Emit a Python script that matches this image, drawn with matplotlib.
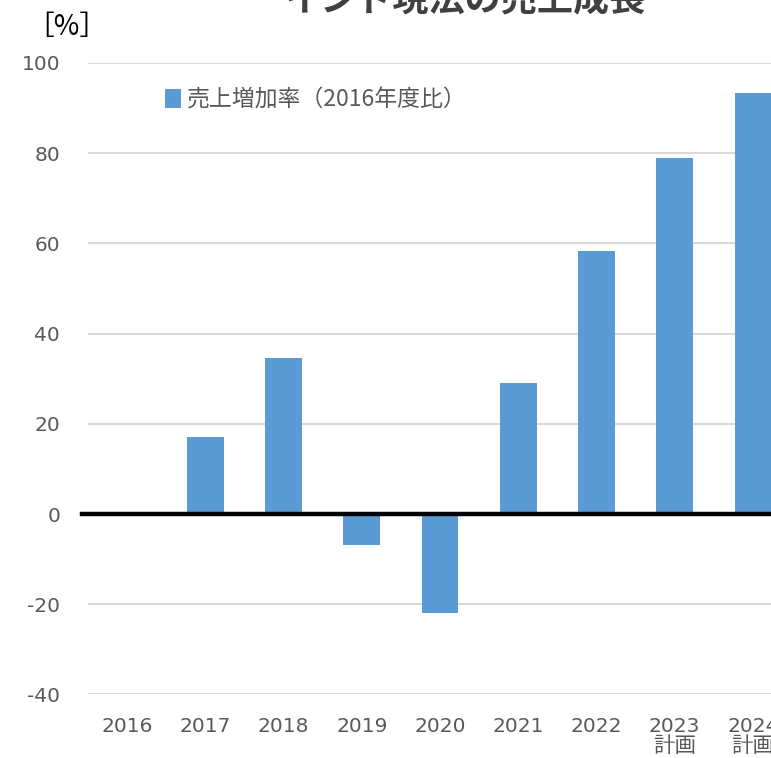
import matplotlib
matplotlib.use("Agg")
import matplotlib.pyplot as plt
import matplotlib.transforms as mtransforms

plt.rcParams['font.family'] = ['DejaVu Sans', 'Noto Sans CJK JP']
plt.rcParams['axes.unicode_minus'] = False

# data
years = ["2016", "2017", "2018", "2019", "2020", "2021", "2022", "2023", "2024"]
plan_note = ["", "", "", "", "", "", "", "計画", "計画"]
growth = [0, 17.1, 34.6, -6.9, -22.0, 29.0, 58.3, 78.9, 93.3]
yticks = [-40, -20, 0, 20, 40, 60, 80, 100]

W, H = 771, 758
fig = plt.figure(figsize=(W / 100, H / 100), dpi=100)

# axes area in pixels: left 88, right ~792 (cropped), y 100 at 63, -40 at 694
left, right = 88, 792
top, bottom = 63, 694.4
ax = fig.add_axes([left / W, 1 - bottom / H, (right - left) / W, (bottom - top) / H])

xs = list(range(len(years)))
ax.bar(xs, growth, width=0.47, color="#5B9BD5", label="売上増加率（2016年度比）", zorder=3)

ax.set_xlim(-0.5, len(years) - 0.5)
ax.set_ylim(-40, 100)
ax.set_yticks(yticks)
ax.set_xticks(xs)
ax.set_xticklabels(years)
ax.yaxis.grid(True, color="#D9D9D9", linewidth=1.5, zorder=0)
ax.axhline(0, color="black", linewidth=3.2, zorder=4, xmin=-0.009, clip_on=False)

for s in ax.spines.values():
    s.set_visible(False)
ax.tick_params(axis="both", length=0, labelsize=14.5, labelcolor="#595959")
ax.tick_params(axis="y", pad=20)
ax.tick_params(axis="x", pad=16)

# second line under the planned years
trans = mtransforms.blended_transform_factory(ax.transData, ax.transAxes)
for x, note in zip(xs, plan_note):
    if note:
        ax.annotate(note, xy=(x, 0), xycoords=trans, xytext=(0, -52),
                    textcoords="offset pixels", ha="center", va="center",
                    fontsize=15.5, color="#595959", family=["Noto Sans CJK JP"],
                    annotation_clip=False)

leg = ax.legend(loc="upper left", bbox_to_anchor=(0.08, 0.992), frameon=False,
                handlelength=0.7, handleheight=0.9, handletextpad=0.25,
                labelcolor="#595959",
                prop={"family": ["Noto Sans CJK JP"], "size": 16.5})

fig.text(67 / W, 1 - 27 / H, "［%］", fontsize=20, color="black", ha="center", va="center",
         family=["Noto Sans CJK JP"])
fig.text(465 / W, 1 - 0 / H, "インド現法の売上成長", fontsize=26, fontweight="bold",
         color="#404040", ha="center", va="center", family=["Noto Sans CJK JP"])

fig.savefig("out.png", dpi=100)
